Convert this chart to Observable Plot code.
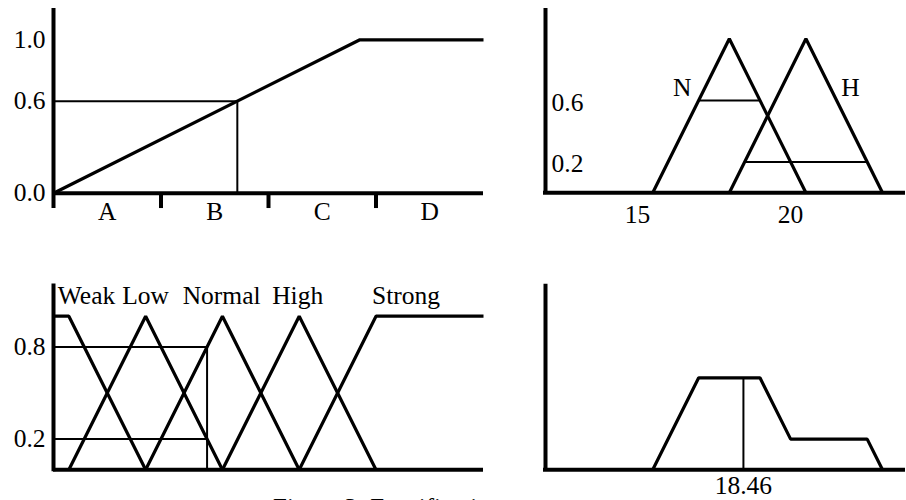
<!DOCTYPE html>
<html><head><meta charset="utf-8">
<script src="https://cdn.jsdelivr.net/npm/d3@7"></script>
<script src="https://cdn.jsdelivr.net/npm/@observablehq/plot@0.6"></script>
<style>
html,body{margin:0;padding:0;background:#fff;overflow:hidden;}
#fig{position:relative;width:906px;height:500px;overflow:hidden;}
#fig svg{position:absolute;left:0;top:0;}
#caption{position:absolute;left:273px;top:495px;font-family:"Liberation Serif",serif;font-size:25px;line-height:25px;white-space:nowrap;color:#000;}
</style></head><body>
<div id="fig"><div id="caption">Figure 3: Fuzzification</div></div>
<script>
// ---------- data ----------
// top-left: input ramp over categories A..D
const rampCats = ["A", "B", "C", "D"];
const rampX = [0, 2.85, 4];
const rampY = [0, 1, 1];
const rampInput = 1.71;
const rampCut = 0.6;
const rampTicks = [0, 0.6, 1.0];

// top-right: N and H triangular sets
const tempTicks = [15, 20];
const setNames = ["N", "H"];
const setLabelX = [16.46, 21.95];
const setLabelY = [0.68, 0.68];
const nX = [15.5, 18, 20.5];
const nY = [0, 1, 0];
const hX = [18, 20.5, 23];
const hY = [0, 1, 0];
const nCut = 0.6;
const hCut = 0.2;
const setCutTicks = [0.6, 0.2];

// bottom-left: five linguistic terms
const termNames = ["Weak", "Low", "Normal", "High", "Strong"];
const termLabelX = [0.23, 1.0, 1.99, 2.98, 4.39];
const weakX = [-0.2, 0, 1],   weakY = [1, 1, 0];
const lowX = [0, 1, 2],       lowY = [0, 1, 0];
const normalX = [1, 2, 3],    normalY = [0, 1, 0];
const highX = [2, 3, 4],      highY = [0, 1, 0];
const strongX = [3, 4, 5.4],  strongY = [0, 1, 1];
const termInput = 1.8;
const termCuts = [0.8, 0.2];

// bottom-right: aggregated output and centroid
const aggX = [15.5, 17, 19, 20, 22.5, 23];
const aggY = [0, 0.6, 0.6, 0.2, 0.2, 0];
const centroid = 18.46;

// ---------- drawing ----------
const FONT = "Liberation Serif";
const FS = 25.5;
const base = {
  width: 906, height: 500,
  style: {background: "none", overflow: "visible", fontFamily: FONT, fontSize: FS + "px", color: "#000"}
};
const fig = document.getElementById("fig");
const pts = (xs, ys) => xs.map((x, i) => ({x, y: ys[i]}));
const lineOpts = {x: "x", y: "y", stroke: "#000", strokeWidth: 3.2, strokeLinejoin: "miter", strokeLinecap: "butt"};

// Panel 1
fig.appendChild(Plot.plot({
  ...base,
  marginLeft: 53, marginRight: 423, marginTop: 39.3, marginBottom: 307.3,
  x: {domain: [0, 4], axis: null},
  y: {domain: [0, 1], axis: null},
  marks: [
    Plot.axisY({ticks: rampTicks, tickFormat: d3.format(".1f"), tickSize: 0, tickPadding: 8, label: null, fontSize: FS}),
    Plot.axisX({ticks: rampCats.map((c, i) => i + 0.5), tickFormat: d => rampCats[Math.floor(d)], tickSize: 0, tickPadding: 9, label: null, fontSize: FS}),
    Plot.ruleY([rampCut], {x1: 0, x2: rampInput, strokeWidth: 2}),
    Plot.ruleX([rampInput], {y1: 0, y2: rampCut, strokeWidth: 2}),
    Plot.line(pts(rampX, rampY), lineOpts),
    Plot.ruleX([0], {y1: -0.1, y2: 1.204, strokeWidth: 4}),
    Plot.ruleY([0], {x1: 0, x2: 4, strokeWidth: 4}),
    Plot.ruleX([1, 2, 3], {y1: -0.1, y2: 0, strokeWidth: 4})
  ]
}));

// Panel 2
const setRows = [...pts(nX, nY).map(d => ({...d, s: "N"})), ...pts(hX, hY).map(d => ({...d, s: "H"}))];
fig.appendChild(Plot.plot({
  ...base,
  marginLeft: 545, marginRight: 1, marginTop: 38.3, marginBottom: 307.7,
  x: {domain: [12, 23.75], axis: null},
  y: {domain: [0, 1], axis: null},
  marks: [
    Plot.axisX({ticks: tempTicks, tickSize: 0, tickPadding: 12, label: null, fontSize: FS}),
    Plot.text(setCutTicks, {x: 12, y: d => d, text: d => d3.format(".1f")(d), textAnchor: "start", dx: 6, dy: 2, fontSize: FS}),
    Plot.text(setNames, {x: (d, i) => setLabelX[i], y: (d, i) => setLabelY[i], text: d => d, fontSize: FS}),
    Plot.ruleY([nCut], {x1: nX[0] + nCut * (nX[1] - nX[0]), x2: nX[2] - nCut * (nX[2] - nX[1]), strokeWidth: 2}),
    Plot.ruleY([hCut], {x1: hX[0] + hCut * (hX[1] - hX[0]), x2: hX[2] - hCut * (hX[2] - hX[1]), strokeWidth: 2}),
    Plot.line(setRows, {...lineOpts, z: "s"}),
    Plot.ruleX([12], {y1: 0, y2: 1.197, strokeWidth: 4}),
    Plot.ruleY([0], {x1: 11.935, x2: 23.75, strokeWidth: 4})
  ]
}));

// Panel 3
const termXs = [weakX, lowX, normalX, highX, strongX];
const termYs = [weakY, lowY, normalY, highY, strongY];
const termRows = termNames.flatMap((t, k) => pts(termXs[k], termYs[k]).map(d => ({...d, t})));
fig.appendChild(Plot.plot({
  ...base,
  marginLeft: 53, marginRight: 423, marginTop: 315.7, marginBottom: 30.7,
  x: {domain: [-0.2, 5.4], axis: null},
  y: {domain: [0, 1], axis: null},
  marks: [
    Plot.axisY({ticks: termCuts, tickFormat: d3.format(".1f"), tickSize: 0, tickPadding: 8, label: null, fontSize: FS}),
    Plot.text(termNames, {x: (d, i) => termLabelX[i], y: 1, dy: -12, lineAnchor: "bottom", text: d => d, fontSize: FS}),
    Plot.ruleY(termCuts, {x1: -0.2, x2: termInput, strokeWidth: 2}),
    Plot.ruleX([termInput], {y1: 0, y2: termCuts[0], strokeWidth: 2}),
    Plot.line(termRows, {...lineOpts, z: "t"}),
    Plot.ruleX([-0.2], {y1: -0.013, y2: 1.21, strokeWidth: 4}),
    Plot.ruleY([0], {x1: -0.2, x2: 5.4, strokeWidth: 4})
  ]
}));

// Panel 4
fig.appendChild(Plot.plot({
  ...base,
  marginLeft: 545, marginRight: 1, marginTop: 316, marginBottom: 30.7,
  x: {domain: [12, 23.75], axis: null},
  y: {domain: [0, 1], axis: null},
  marks: [
    Plot.axisX({ticks: [centroid], tickFormat: d3.format(".2f"), tickSize: 0, tickPadding: 6, label: null, fontSize: FS}),
    Plot.ruleX([centroid], {y1: 0, y2: aggY[1], strokeWidth: 2}),
    Plot.line(pts(aggX, aggY), lineOpts),
    Plot.ruleX([12], {y1: 0, y2: 1.21, strokeWidth: 4}),
    Plot.ruleY([0], {x1: 11.935, x2: 23.75, strokeWidth: 4})
  ]
}));
</script>
</body></html>
